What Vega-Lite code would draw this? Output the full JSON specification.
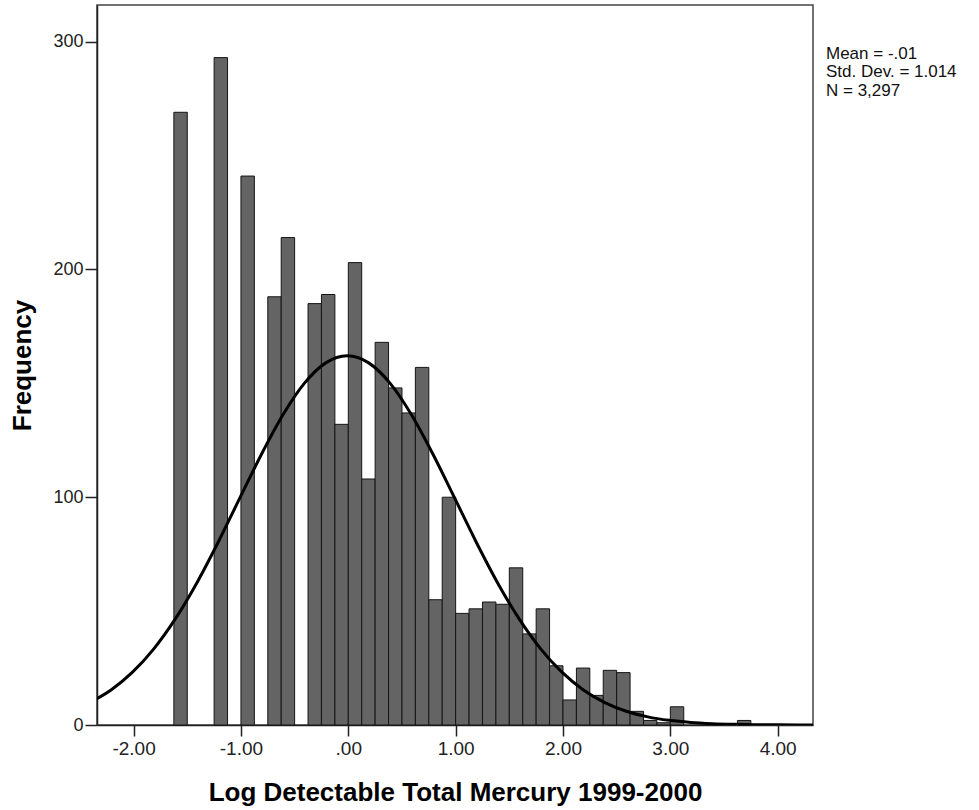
{
  "$schema": "https://vega.github.io/schema/vega-lite/v6.json",
  "width": 716,
  "height": 720,
  "autosize": {"type": "none"},
  "padding": {"left": 97, "top": 5, "right": 166, "bottom": 85},
  "background": "white",
  "config": {
    "view": {"stroke": "#444", "strokeWidth": 1.5},
    "font": "Liberation Sans",
    "axis": {
      "grid": false,
      "domainColor": "#222",
      "domainWidth": 1.5,
      "tickColor": "#222",
      "tickWidth": 1.5,
      "labelColor": "#222",
      "labelFont": "Liberation Sans",
      "titleFont": "Liberation Sans",
      "titleColor": "#000",
      "titleFontWeight": "bold",
      "titleFontSize": 26
    }
  },
  "datasets": {
    "bins": [
      {"start": -1.625, "end": -1.5, "count": 269},
      {"start": -1.25, "end": -1.125, "count": 293},
      {"start": -1.0, "end": -0.875, "count": 241},
      {"start": -0.75, "end": -0.625, "count": 188},
      {"start": -0.625, "end": -0.5, "count": 214},
      {"start": -0.375, "end": -0.25, "count": 185},
      {"start": -0.25, "end": -0.125, "count": 189},
      {"start": -0.125, "end": 0.0, "count": 132},
      {"start": 0.0, "end": 0.125, "count": 203},
      {"start": 0.125, "end": 0.25, "count": 108},
      {"start": 0.25, "end": 0.375, "count": 168},
      {"start": 0.375, "end": 0.5, "count": 148},
      {"start": 0.5, "end": 0.625, "count": 137},
      {"start": 0.625, "end": 0.75, "count": 157},
      {"start": 0.75, "end": 0.875, "count": 55},
      {"start": 0.875, "end": 1.0, "count": 100},
      {"start": 1.0, "end": 1.125, "count": 49},
      {"start": 1.125, "end": 1.25, "count": 51},
      {"start": 1.25, "end": 1.375, "count": 54},
      {"start": 1.375, "end": 1.5, "count": 53},
      {"start": 1.5, "end": 1.625, "count": 69},
      {"start": 1.625, "end": 1.75, "count": 40},
      {"start": 1.75, "end": 1.875, "count": 51},
      {"start": 1.875, "end": 2.0, "count": 26},
      {"start": 2.0, "end": 2.125, "count": 11},
      {"start": 2.125, "end": 2.25, "count": 25},
      {"start": 2.25, "end": 2.375, "count": 13},
      {"start": 2.375, "end": 2.5, "count": 24},
      {"start": 2.5, "end": 2.625, "count": 23},
      {"start": 2.625, "end": 2.75, "count": 6},
      {"start": 2.75, "end": 2.875, "count": 2},
      {"start": 2.875, "end": 3.0, "count": 1},
      {"start": 3.0, "end": 3.125, "count": 8},
      {"start": 3.625, "end": 3.75, "count": 2}
    ],
    "curve": [
      {"x": -2.41, "y": 9.85},
      {"x": -2.21, "y": 15.40},
      {"x": -2.01, "y": 23.18},
      {"x": -1.81, "y": 33.54},
      {"x": -1.61, "y": 46.68},
      {"x": -1.41, "y": 62.49},
      {"x": -1.21, "y": 80.47},
      {"x": -1.01, "y": 99.68},
      {"x": -0.81, "y": 118.74},
      {"x": -0.61, "y": 136.07},
      {"x": -0.41, "y": 149.97},
      {"x": -0.21, "y": 158.98},
      {"x": -0.01, "y": 162.10},
      {"x": 0.19, "y": 158.98},
      {"x": 0.39, "y": 149.97},
      {"x": 0.59, "y": 136.07},
      {"x": 0.79, "y": 118.74},
      {"x": 0.99, "y": 99.68},
      {"x": 1.19, "y": 80.47},
      {"x": 1.39, "y": 62.49},
      {"x": 1.59, "y": 46.68},
      {"x": 1.79, "y": 33.54},
      {"x": 1.99, "y": 23.18},
      {"x": 2.19, "y": 15.40},
      {"x": 2.39, "y": 9.85},
      {"x": 2.59, "y": 6.05},
      {"x": 2.79, "y": 3.58},
      {"x": 2.99, "y": 2.04},
      {"x": 3.19, "y": 1.11},
      {"x": 3.39, "y": 0.59},
      {"x": 3.59, "y": 0.30},
      {"x": 3.79, "y": 0.15},
      {"x": 3.99, "y": 0.07},
      {"x": 4.19, "y": 0.03},
      {"x": 4.39, "y": 0.01}
    ],
    "stats": [
      {"label": "Mean = -.01", "line": 0},
      {"label": "Std. Dev. = 1.014", "line": 1},
      {"label": "N = 3,297", "line": 2}
    ]
  },
  "layer": [
    {
      "data": {"name": "bins"},
      "mark": {"type": "bar", "fill": "#646464", "stroke": "#151515", "strokeWidth": 1},
      "encoding": {
        "x": {
          "field": "start",
          "type": "quantitative",
          "scale": {"domain": [-2.341, 4.329], "nice": false, "zero": false},
          "axis": {
            "values": [-2, -1, 0, 1, 2, 3, 4],
            "tickSize": 11,
            "labelPadding": 3,
            "labelFontSize": 19,
            "labelExpr": "datum.value == 0 ? '.00' : (datum.value < 0 ? '-' : '') + format(abs(datum.value), '.2f')",
            "title": "Log Detectable Total Mercury 1999-2000",
            "titleY": 75,
            "titleBaseline": "alphabetic"
          }
        },
        "x2": {"field": "end"},
        "y": {
          "field": "count",
          "type": "quantitative",
          "scale": {"domain": [0, 316.1], "nice": false},
          "axis": {
            "values": [0, 100, 200, 300],
            "tickSize": 12,
            "labelPadding": 2,
            "labelFontSize": 18,
            "title": "Frequency",
            "titleX": -67,
            "titleBaseline": "alphabetic"
          }
        },
        "y2": {"datum": 0}
      }
    },
    {
      "data": {"name": "curve"},
      "mark": {"type": "line", "color": "#000", "strokeWidth": 3, "interpolate": "monotone", "clip": true},
      "encoding": {
        "x": {"field": "x", "type": "quantitative"},
        "y": {"field": "y", "type": "quantitative"}
      }
    },
    {
      "data": {"name": "stats"},
      "mark": {"type": "text", "align": "left", "baseline": "alphabetic", "fontSize": 17, "font": "Liberation Sans", "color": "#111", "dx": 13, "clip": false},
      "encoding": {
        "x": {"datum": 4.329},
        "y": {"datum": 292.4},
        "yOffset": {"field": "line", "type": "quantitative", "scale": {"domain": [0, 2], "range": [0, 37]}},
        "text": {"field": "label"}
      }
    }
  ]
}
